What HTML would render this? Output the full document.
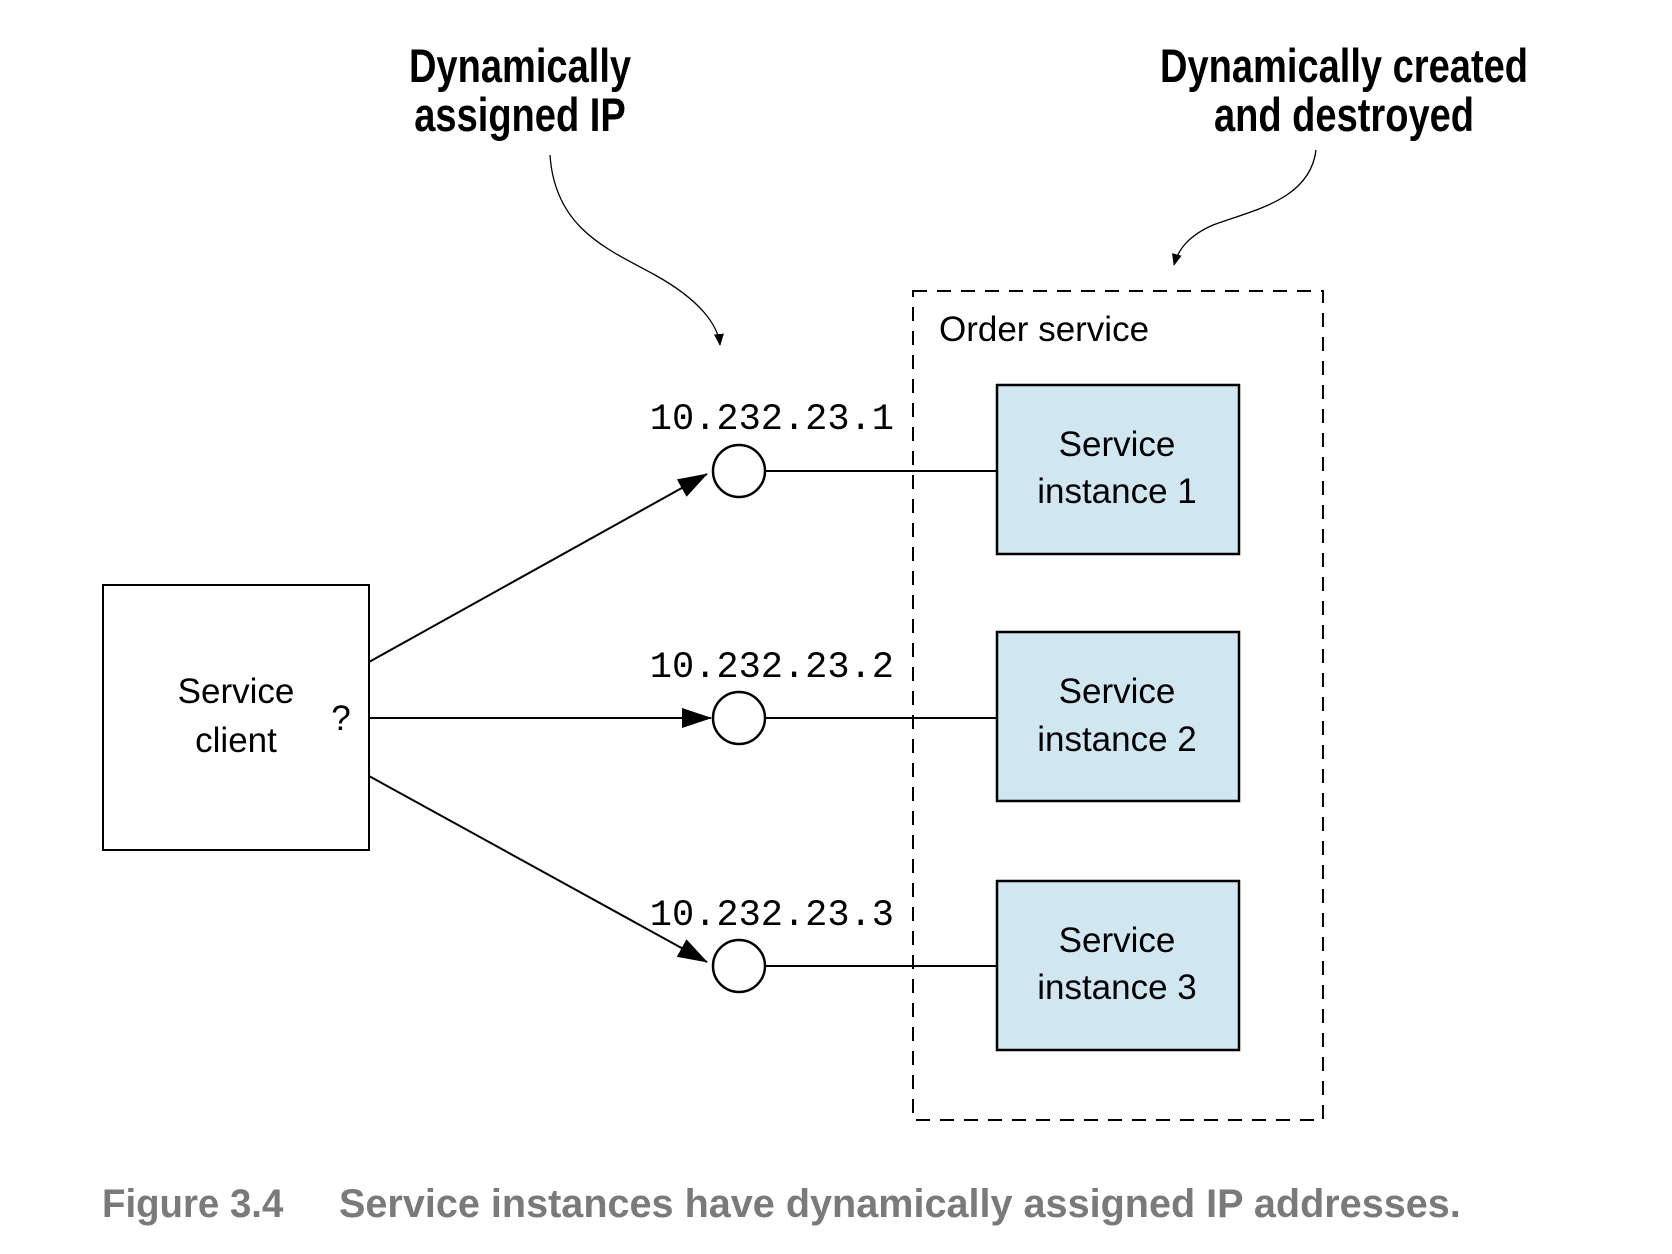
<!DOCTYPE html>
<html><head><meta charset="utf-8"><style>
html,body{margin:0;padding:0;background:#fff;}
svg{display:block;}
</style></head><body>
<svg width="1672" height="1254" viewBox="0 0 1672 1254" xmlns="http://www.w3.org/2000/svg">
<defs>
<marker id="ah" markerWidth="12" markerHeight="10" refX="11" refY="5" orient="auto" markerUnits="userSpaceOnUse" viewBox="0 0 12 10">
<path d="M0,0 L12,5 L0,10 z" fill="#000"/></marker>
<marker id="ah2" markerWidth="30" markerHeight="20" refX="29" refY="10" orient="auto" markerUnits="userSpaceOnUse" viewBox="0 0 30 20">
<path d="M0,0 L30,10 L0,20 z" fill="#000"/></marker>
</defs>
<g font-family="'Liberation Sans',sans-serif" font-weight="bold" font-size="47" text-anchor="middle" fill="#000">
<text transform="translate(520,82) scale(0.81,1)">Dynamically</text>
<text transform="translate(520,131) scale(0.81,1)">assigned IP</text>
<text transform="translate(1344,82) scale(0.81,1)">Dynamically created</text>
<text transform="translate(1344,131) scale(0.81,1)">and destroyed</text>
</g>
<path d="M550,155 C555,230 610,250 655,275 C700,300 718,325 720,345" fill="none" stroke="#000" stroke-width="1.3" marker-end="url(#ah)"/>
<path d="M1316,150 C1310,200 1253,210 1213,225 C1188,236 1178,250 1174,265" fill="none" stroke="#000" stroke-width="1.3" marker-end="url(#ah)"/>
<rect x="103" y="585" width="266" height="265" fill="#fff" stroke="#000" stroke-width="2"/>
<g font-family="'Liberation Sans',sans-serif" font-size="35" text-anchor="middle">
<text x="236" y="703">Service</text>
<text x="236" y="752">client</text>
<text x="341" y="730">?</text>
</g>
<g stroke="#000" stroke-width="2">
<line x1="369" y1="662" x2="707" y2="474" marker-end="url(#ah2)"/>
<line x1="369" y1="718" x2="711" y2="718" marker-end="url(#ah2)"/>
<line x1="369" y1="776" x2="707" y2="962" marker-end="url(#ah2)"/>
</g>
<g transform="translate(-4,-1)">
<rect x="917" y="292" width="410" height="829" fill="none" stroke="#000" stroke-width="2" stroke-dasharray="14,10"/>
<text x="943" y="342" font-family="'Liberation Sans',sans-serif" font-size="35">Order service</text>
<g stroke="#000" stroke-width="2">
<line x1="769" y1="472" x2="1001" y2="472"/>
<line x1="769" y1="719" x2="1001" y2="719"/>
<line x1="769" y1="967" x2="1001" y2="967"/>
</g>
<g fill="#fff" stroke="#000" stroke-width="2.5">
<circle cx="743" cy="472" r="26"/>
<circle cx="743" cy="719" r="26"/>
<circle cx="743" cy="967" r="26"/>
</g>
<g font-family="'Liberation Mono',monospace" font-size="37" text-anchor="end">
<text x="898" y="430">10.232.23.1</text>
<text x="898" y="678">10.232.23.2</text>
<text x="898" y="926">10.232.23.3</text>
</g>
<g fill="#d0e6f0" stroke="#000" stroke-width="2.5">
<rect x="1001" y="386" width="242" height="169"/>
<rect x="1001" y="633" width="242" height="169"/>
<rect x="1001" y="882" width="242" height="169"/>
</g>
<g font-family="'Liberation Sans',sans-serif" font-size="35" text-anchor="middle">
<text x="1121" y="457">Service</text>
<text x="1121" y="504">instance 1</text>
<text x="1121" y="704">Service</text>
<text x="1121" y="752">instance 2</text>
<text x="1121" y="953">Service</text>
<text x="1121" y="1000">instance 3</text>
</g>
</g>
<g font-family="'Liberation Sans',sans-serif" font-weight="bold" font-size="40" fill="#7a7a7a">
<text transform="translate(102,1217) scale(0.96,1)">Figure 3.4</text>
<text transform="translate(339,1217) scale(0.99,1)">Service instances have dynamically assigned IP addresses.</text>
</g>
</svg>
</body></html>
